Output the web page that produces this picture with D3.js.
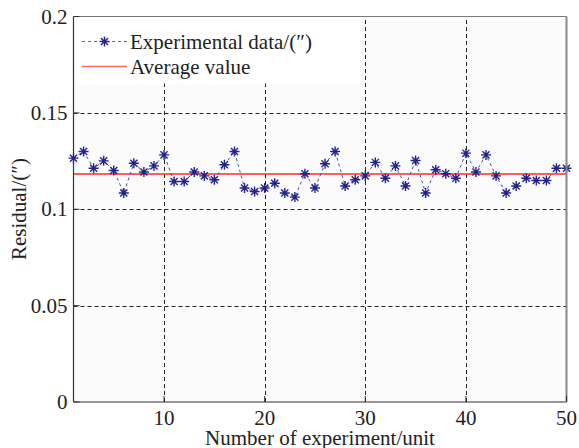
<!DOCTYPE html>
<html>
<head>
<meta charset="utf-8">
<script src="https://cdn.jsdelivr.net/npm/d3@7.9.0/dist/d3.min.js"></script>
<style>
  body { margin: 0; background: #fff; }
  svg { display: block; }
</style>
</head>
<body>
<svg width="579" height="448"></svg>
<script>
// experiment index 1..50
const experiments = d3.range(1, 51);
const residuals = [
  0.1265, 0.1300, 0.1213, 0.1251, 0.1201, 0.1084, 0.1239, 0.1193, 0.1225, 0.1282,
  0.1144, 0.1144, 0.1193, 0.1173, 0.1153, 0.1231, 0.1300, 0.1110, 0.1092, 0.1110,
  0.1135, 0.1084, 0.1063, 0.1184, 0.1110, 0.1236, 0.1300, 0.1121, 0.1153, 0.1173,
  0.1243, 0.1161, 0.1225, 0.1121, 0.1253, 0.1084, 0.1205, 0.1184, 0.1161, 0.1291,
  0.1193, 0.1282, 0.1173, 0.1084, 0.1121, 0.1161, 0.1149, 0.1149, 0.1213, 0.1213
];
const averageValue = 0.1183;
const xTicks = [10, 20, 30, 40, 50];
const yTicks = [0, 0.05, 0.1, 0.15, 0.2];
const legendLabels = ["Experimental data/(\u2033)", "Average value"];

const FONT = "Liberation Serif";
const FS = 21;
const svg = d3.select("svg");
const pLeft = 73.5, pRight = 566.5, pTop = 16.5, pBottom = 402;

const x = d3.scaleLinear().domain([1, 50]).range([pLeft, pRight]);
const y = d3.scaleLinear().domain([0, 0.2]).range([pBottom, pTop]);

// plot background
svg.append("rect")
  .attr("x", pLeft).attr("y", pTop)
  .attr("width", pRight - pLeft).attr("height", pBottom - pTop)
  .attr("fill", "#fbfbfb");

// grid
const grid = svg.append("g")
  .attr("stroke", "#222").attr("stroke-width", 1)
  .attr("stroke-dasharray", "4,3");
xTicks.filter(d => d < 50).forEach(d => {
  grid.append("line")
    .attr("x1", Math.round(x(d)) + 0.5).attr("x2", Math.round(x(d)) + 0.5)
    .attr("y1", pBottom).attr("y2", pTop);
});
yTicks.filter(d => d > 0 && d < 0.2).forEach(d => {
  grid.append("line")
    .attr("x1", pLeft).attr("x2", pRight)
    .attr("y1", Math.round(y(d)) + 0.5).attr("y2", Math.round(y(d)) + 0.5);
});

// legend box (covers grid)
const legendW = 287, legendH = 67;
svg.append("rect")
  .attr("x", pLeft).attr("y", pTop)
  .attr("width", legendW).attr("height", legendH)
  .attr("fill", "#fff");

// average line
svg.append("line")
  .attr("x1", x(1)).attr("x2", x(50))
  .attr("y1", y(averageValue)).attr("y2", y(averageValue))
  .attr("stroke", "#ff2a2a").attr("stroke-width", 1.3);

// data line
const line = d3.line()
  .x((d, i) => x(experiments[i]))
  .y(d => y(d));
svg.append("path")
  .datum(residuals)
  .attr("d", line)
  .attr("fill", "none")
  .attr("stroke", "#4650a8")
  .attr("stroke-width", 1)
  .attr("stroke-dasharray", "3,3");

// asterisk markers
function star(g, cx, cy, r) {
  const d = [];
  for (let k = 0; k < 4; k++) {
    const a = k * Math.PI / 4;
    d.push(`M${cx - r * Math.cos(a)},${cy - r * Math.sin(a)}L${cx + r * Math.cos(a)},${cy + r * Math.sin(a)}`);
  }
  g.append("path").attr("d", d.join(""))
    .attr("stroke", "#23238a").attr("stroke-width", 1.4).attr("fill", "none");
}
const markers = svg.append("g");
residuals.forEach((v, i) => star(markers, x(experiments[i]), y(v), 5));

// axes frame
svg.append("line").attr("x1", pLeft).attr("x2", pLeft).attr("y1", pTop).attr("y2", pBottom)
  .attr("stroke", "#333").attr("stroke-width", 1.2);
svg.append("line").attr("x1", pLeft).attr("x2", pRight).attr("y1", pBottom).attr("y2", pBottom)
  .attr("stroke", "#333").attr("stroke-width", 1.2);
svg.append("line").attr("x1", pLeft).attr("x2", pRight).attr("y1", pTop).attr("y2", pTop)
  .attr("stroke", "#777").attr("stroke-width", 1.2);
svg.append("line").attr("x1", pRight).attr("x2", pRight).attr("y1", pTop).attr("y2", pBottom)
  .attr("stroke", "#888").attr("stroke-width", 2);

// ticks (inward)
const tk = svg.append("g").attr("stroke", "#333").attr("stroke-width", 1);
yTicks.forEach(d => {
  tk.append("line").attr("x1", pLeft).attr("x2", pLeft + 6).attr("y1", y(d)).attr("y2", y(d));
});
xTicks.forEach(d => {
  tk.append("line").attr("x1", x(d)).attr("x2", x(d)).attr("y1", pBottom).attr("y2", pBottom - 6);
});

// tick labels
svg.append("g").selectAll("text").data(yTicks).join("text")
  .attr("x", pLeft - 6).attr("y", d => y(d) + 7)
  .attr("text-anchor", "end")
  .style("font-family", FONT)
  .attr("font-size", FS).attr("fill", "#222")
  .text(d => d === 0 ? "0" : d3.format("")(d));
svg.append("g").selectAll("text").data(xTicks).join("text")
  .attr("x", d => x(d)).attr("y", pBottom + 23)
  .attr("text-anchor", "middle")
  .style("font-family", FONT)
  .attr("font-size", FS).attr("fill", "#222")
  .text(d => d);

// axis titles
svg.append("text")
  .attr("x", 320).attr("y", 445)
  .attr("text-anchor", "middle")
  .style("font-family", FONT)
  .attr("font-size", FS).attr("fill", "#222")
  .text("Number of experiment/unit");
svg.append("text")
  .attr("transform", `translate(26,209) rotate(-90)`)
  .attr("text-anchor", "middle")
  .style("font-family", FONT)
  .attr("font-size", FS).attr("fill", "#222")
  .text("Residual/(\u2033)");

// legend entries
const lg = svg.append("g");
const rowY = [41.5, 66.5];
lg.append("line").attr("x1", 82).attr("x2", 127).attr("y1", rowY[0]).attr("y2", rowY[0])
  .attr("stroke", "#5560b8").attr("stroke-width", 1).attr("stroke-dasharray", "3,3");
star(lg, 104.5, rowY[0], 5);
lg.append("line").attr("x1", 82).attr("x2", 127).attr("y1", rowY[1]).attr("y2", rowY[1])
  .attr("stroke", "#ff6a5a").attr("stroke-width", 1.5);
lg.selectAll("text").data(legendLabels).join("text")
  .attr("x", 130).attr("y", (d, i) => rowY[i] + 7)
  .style("font-family", FONT)
  .attr("font-size", FS).attr("fill", "#222")
  .text(d => d);
</script>
</body>
</html>
